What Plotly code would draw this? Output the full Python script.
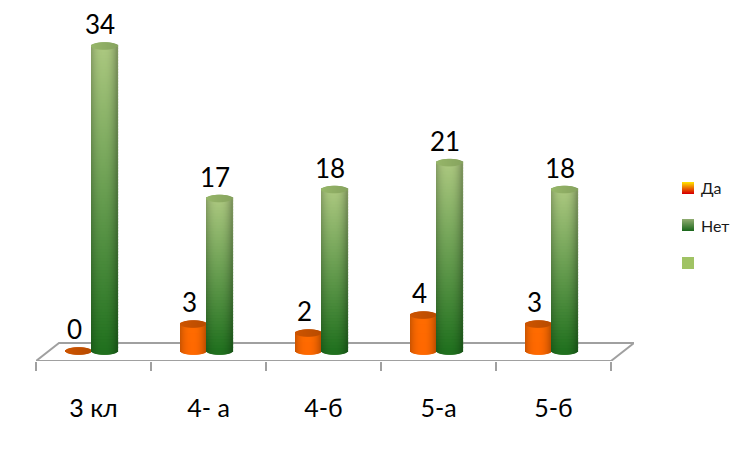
import math
import plotly.graph_objects as go

categories = ["3 кл", "4- а", "4-б", "5-а", "5-б"]
da_values = [0, 3, 2, 4, 3]
net_values = [34, 17, 18, 21, 18]

FONT = "Lato, 'Noto Sans', sans-serif"
SLICES = 26
BAR_W = 26 / 115
GROUP_SHIFT = -0.013
CAP_B = 0.42
OVERLAP = 0.15
LAYERS_PER_UNIT = 3


def mix(a, b, t):
    return tuple(a[i] + (b[i] - a[i]) * t for i in range(3))


def css(c):
    return "rgb(%d,%d,%d)" % tuple(round(v) for v in c)


def shade(c, s):
    k = 1 - 0.24 * abs(s + 0.05) ** 2.4
    return tuple(v * k for v in c)


def cylinder(xc, value, low, high, cap, layers):
    xs, bases, heights, colors = [], [], [], []
    for j in range(SLICES):
        s = -1 + (2 * j + 1) / SLICES
        dx = s * BAR_W / 2
        arc = CAP_B * math.sqrt(max(0, 1 - s * s))
        if value > 0:
            for k in range(layers):
                lo = -arc if k == 0 else value * k / layers
                hi = value * (k + 1) / layers + OVERLAP
                f = (k + 0.5) / layers
                xs.append(xc + dx)
                bases.append(lo)
                heights.append(hi - lo)
                colors.append(css(shade(mix(low, high, f), s)))
        xs.append(xc + dx)
        bases.append(value - arc)
        heights.append(2 * arc)
        colors.append(css(mix(cap, tuple(v * 0.9 for v in cap), (s + 1) / 2)))
    return xs, bases, heights, colors


def series_trace(name, values, offset, low, high, cap, per_unit):
    X, B, H, C = [], [], [], []
    for i, v in enumerate(values):
        layers = max(1, v * per_unit)
        x, b, h, c = cylinder(i + GROUP_SHIFT + offset, v, low, high, cap, layers)
        X += x
        B += b
        H += h
        C += c
    return go.Bar(
        name=name, x=X, y=H, base=B, width=BAR_W / SLICES * 1.2,
        marker=dict(color=C, line=dict(width=0)),
        showlegend=False, hoverinfo="skip",
    )


fig = go.Figure()
fig.add_trace(series_trace("Да", da_values, -BAR_W / 2,
                           (255, 104, 0), (255, 108, 0), (205, 84, 0), 1))
fig.add_trace(series_trace("Нет", net_values, BAR_W / 2,
                           (32, 112, 30), (172, 200, 128), (150, 182, 105), LAYERS_PER_UNIT))

ANN = []
for i, (a, b) in enumerate(zip(da_values, net_values)):
    for v, off in ((a, -BAR_W / 2), (b, BAR_W / 2)):
        ANN.append(dict(x=i + GROUP_SHIFT + off, y=v, xref="x", yref="y", text=str(v),
                        showarrow=False, xshift=-5, yshift=22,
                        font=dict(family=FONT, size=26, color="#000000")))

Y_FRONT, Y_BACK = -1.115, 0.89
SKEW = 0.2
SHAPES = [dict(
    type="path", xref="x", yref="y", layer="below",
    path=f"M -0.5 {Y_FRONT} L {-0.5 + SKEW} {Y_BACK} L {4.5 + SKEW} {Y_BACK} L 4.5 {Y_FRONT} Z",
    line=dict(color="#a0a0a0", width=2), fillcolor="#ffffff",
)]

M_L, M_R, M_T, M_B = 36, 117, 0, 449 - 361
PW, PH = 751 - M_L - M_R, 449 - M_T - M_B
LX0 = (682 - M_L) / PW
LX1 = (694 - M_L) / PW


def swatch(y_top, top, bottom):
    n = 12
    for k in range(n):
        f = k / (n - 1)
        SHAPES.append(dict(
            type="rect", xref="paper", yref="paper", layer="above",
            x0=LX0, x1=LX1, y0=1 - (y_top + k + 1) / PH, y1=1 - (y_top + k) / PH,
            line=dict(width=0), fillcolor=css(mix(top, bottom, f)),
        ))


swatch(182, (255, 220, 0), (215, 0, 0))
swatch(219, (140, 170, 110), (30, 105, 30))
swatch(257, (160, 195, 100), (160, 195, 100))
for label, yc in (("Да", 187), ("Нет", 225)):
    ANN.append(dict(x=(699 - M_L) / PW, y=1 - yc / PH, xref="paper", yref="paper",
                    text=label, showarrow=False, xanchor="left",
                    font=dict(family=FONT, size=16, color="#1a1a1a")))

fig.update_layout(
    width=751, height=449, showlegend=False, barmode="overlay",
    paper_bgcolor="#ffffff", plot_bgcolor="#ffffff",
    margin=dict(l=M_L, r=M_R, t=M_T, b=M_B, pad=0),
    shapes=SHAPES, annotations=ANN,
    xaxis=dict(
        range=[-0.5, 4.7], showgrid=False, zeroline=False, showline=False,
        tickmode="array", tickvals=list(range(len(categories))), ticktext=categories,
        ticks="", ticklabelstandoff=30,
        tickfont=dict(family=FONT, size=25, color="#000000"),
        minor=dict(tickmode="array", tickvals=[i - 0.5 for i in range(len(categories) + 1)],
                   ticks="outside", ticklen=9, tickwidth=2, tickcolor="#a0a0a0", showgrid=False),
    ),
    yaxis=dict(range=[Y_FRONT, 39.13], visible=False),
)
fig.write_html("out.html", config={"displayModeBar": False},
               post_script="document.body.style.margin='0';document.body.style.overflow='hidden';")
